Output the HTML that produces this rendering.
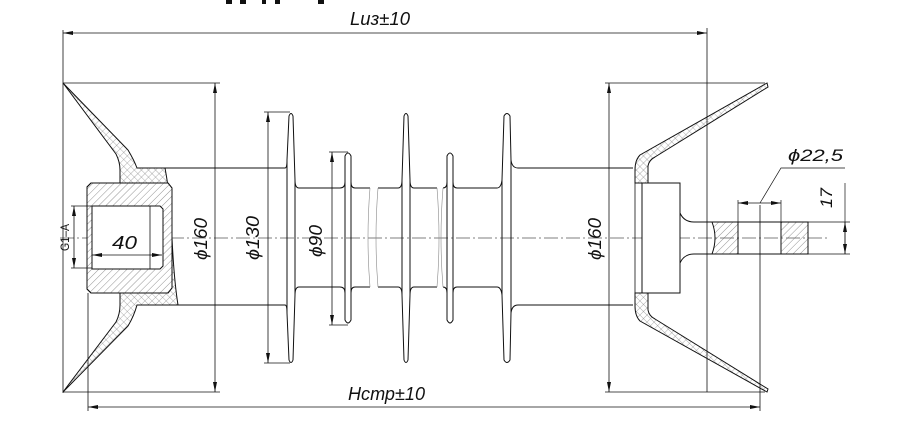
<!DOCTYPE html>
<html><head><meta charset="utf-8"><style>
html,body{margin:0;padding:0;background:#fff;}
svg{display:block}
text{font-family:"Liberation Sans","DejaVu Sans",sans-serif;font-style:italic;fill:#111}
</style></head><body>
<svg width="900" height="432" viewBox="0 0 900 432" xmlns="http://www.w3.org/2000/svg">
<defs>
<pattern id="diag" width="5" height="5" patternUnits="userSpaceOnUse" patternTransform="rotate(45)">
<line x1="0" y1="0" x2="0" y2="5" stroke="#666" stroke-width="0.7"/></pattern>
<pattern id="cross" width="5" height="5" patternUnits="userSpaceOnUse" patternTransform="rotate(45)">
<line x1="0" y1="0" x2="0" y2="5" stroke="#777" stroke-width="0.6"/><line x1="0" y1="0" x2="5" y2="0" stroke="#777" stroke-width="0.6"/></pattern>
<marker id="ar" viewBox="0 0 10 4" refX="10" refY="2" markerWidth="10" markerHeight="4" orient="auto-start-reverse" markerUnits="userSpaceOnUse">
<path d="M0,0 L10,2 L0,4 z" fill="#111"/></marker>
</defs>
<g fill="#111"><rect x="226" y="0" width="6" height="4"/><rect x="240" y="0" width="6" height="4"/><rect x="262" y="0" width="4" height="4"/><rect x="275" y="0" width="5" height="4"/><rect x="318" y="0" width="6" height="4"/></g>

<g stroke="#111" fill="none" stroke-width="1">
<line x1="60" y1="238" x2="830" y2="238" stroke="#555" stroke-width="0.7" stroke-dasharray="14,3,2,3"/>
<line x1="63" y1="30" x2="63" y2="393" stroke-width="0.8"/>
<line x1="707" y1="28" x2="707" y2="392" stroke-width="0.8"/>
<line x1="63" y1="33" x2="707" y2="33" stroke-width="0.8" marker-start="url(#ar)" marker-end="url(#ar)"/>
<line x1="88" y1="293" x2="88" y2="411" stroke-width="0.8"/>
<line x1="760" y1="205" x2="760" y2="411" stroke-width="0.8"/>
<line x1="88" y1="407" x2="760" y2="407" stroke-width="0.8" marker-start="url(#ar)" marker-end="url(#ar)"/>

<!-- left fitting -->
<path d="M63,83 L128,150 Q134,160 137,168 L165,168 Q171,200 172,238 Q174,280 178,305 L137,305 Q134,316 128,326 L63,392 L66,388 L116,322 Q120,314 120,305 L120,170 Q120,162 116,154 L66,87 Z" fill="url(#cross)"/>
<path d="M91,183 L168,183 L172,188 L172,288 L168,293 L91,293 L87,289 L87,187 Z" fill="#fff"/>
<path d="M91,183 L168,183 L172,188 L172,288 L168,293 L91,293 L87,289 L87,187 Z" fill="url(#diag)"/>
<path d="M92,206 L160,206 L163,209 L163,266 L160,269 L92,269 Z" fill="#fff"/>
<path d="M150,206 L150,269" stroke-width="0.8"/>
<path d="M137,168 L285,168 M178,305 L285,305"/>

<!-- sheds -->
<path d="M285,168 Q287,168 287,160 L289,116 Q291,111 293,116 L295,180 Q295,188 299,188 L340,188 Q345,188 345,182 L345,156 Q348,150 351,156 L351,182 Q351,188 355,188 L370,188"/>
<path d="M285,305 Q287,305 287,313 L289,360 Q291,365 293,360 L295,295 Q295,287 299,287 L340,287 Q345,287 345,293 L345,320 Q348,326 351,320 L351,293 Q351,287 355,287 L370,287"/>
<path d="M287,160 L287,313 M295,180 L295,295 M345,182 L345,293 M351,182 L351,293"/>
<path d="M378,188 L398,188 Q402,188 402,180 L404,116 Q406,111 408,116 L410,180 Q410,188 414,188 L437,188 M378,287 L398,287 Q402,287 402,295 L404,360 Q406,365 408,360 L410,295 Q410,287 414,287 L437,287"/>
<path d="M402,180 L402,295 M410,180 L410,295"/>
<path d="M443,188 Q447,188 447,182 L447,156 Q450,150 453,156 L453,182 Q453,188 457,188 L497,188 Q501,188 502,180 L504,116 Q507,111 510,116 L511,160 Q512,168 518,168 L633,168"/>
<path d="M443,287 Q447,287 447,293 L447,320 Q450,326 453,320 L453,293 Q453,287 457,287 L497,287 Q501,287 502,295 L504,360 Q507,365 510,360 L511,313 Q512,305 518,305 L633,305"/>
<path d="M447,182 L447,293 M453,182 L453,293 M502,180 L502,295 M511,160 L511,313"/>
<path d="M370,188 Q366,238 370,287 M378,188 Q374,238 378,287 M437,188 Q441,238 437,287 M443,188 Q439,238 443,287" stroke="#888" stroke-width="0.6"/>

<!-- right fitting -->
<path d="M767,83 L640,155 Q635,160 635,170 L635,183 L648,183 L648,166 Q649,160 655,157 L768,87 Z" fill="url(#cross)"/>
<path d="M767,392 L640,321 Q635,316 635,306 L635,293 L648,293 L648,310 Q649,316 655,319 L768,389 Z" fill="url(#cross)"/>
<path d="M635,183 L635,293 M648,183 Q640,238 648,293" stroke-width="0.8"/>
<rect x="642" y="183" width="38" height="110" fill="#fff"/>
<path d="M680,213 Q684,222 694,222 L808,222 L808,254 L694,254 Q684,254 680,263"/>
<path d="M712,222 L738,222 L738,254 L712,254 Q718,238 712,222 Z" fill="url(#diag)"/>
<path d="M781,222 L808,222 L808,254 L781,254 Z" fill="url(#diag)"/>

<!-- dims -->
<line x1="215" y1="83" x2="215" y2="392" stroke-width="0.8" marker-start="url(#ar)" marker-end="url(#ar)"/>
<line x1="63" y1="83" x2="220" y2="83" stroke-width="0.8"/><line x1="63" y1="392" x2="220" y2="392" stroke-width="0.8"/>
<line x1="268" y1="112" x2="268" y2="363" stroke-width="0.8" marker-start="url(#ar)" marker-end="url(#ar)"/>
<line x1="264" y1="112" x2="290" y2="112" stroke-width="0.8"/><line x1="264" y1="363" x2="290" y2="363" stroke-width="0.8"/>
<line x1="332" y1="152" x2="332" y2="325" stroke-width="0.8" marker-start="url(#ar)" marker-end="url(#ar)"/>
<line x1="329" y1="152" x2="348" y2="152" stroke-width="0.8"/><line x1="329" y1="325" x2="348" y2="325" stroke-width="0.8"/>
<line x1="609" y1="83" x2="609" y2="392" stroke-width="0.8" marker-start="url(#ar)" marker-end="url(#ar)"/>
<line x1="605" y1="83" x2="765" y2="83" stroke-width="0.8"/><line x1="605" y1="392" x2="765" y2="392" stroke-width="0.8"/>
<line x1="74" y1="206" x2="74" y2="268" stroke-width="0.8" marker-start="url(#ar)" marker-end="url(#ar)"/>
<line x1="71" y1="206" x2="92" y2="206" stroke-width="0.7"/><line x1="71" y1="268" x2="92" y2="268" stroke-width="0.7"/>
<line x1="92" y1="255" x2="162" y2="255" stroke-width="0.8" marker-start="url(#ar)" marker-end="url(#ar)"/>
<line x1="738" y1="200" x2="738" y2="222" stroke-width="0.7"/><line x1="781" y1="200" x2="781" y2="222" stroke-width="0.7"/>
<line x1="738" y1="203" x2="781" y2="203" stroke-width="0.8" marker-start="url(#ar)" marker-end="url(#ar)"/>
<path d="M760,203 L781,168 L845,168" stroke-width="0.7"/>
<line x1="808" y1="222" x2="850" y2="222" stroke-width="0.7"/><line x1="808" y1="254" x2="850" y2="254" stroke-width="0.7"/>
<line x1="845" y1="183" x2="845" y2="254" stroke-width="0.7"/>
<line x1="845" y1="222" x2="845" y2="254" stroke-width="0.8" marker-start="url(#ar)" marker-end="url(#ar)"/>
</g>
<text x="350" y="25" font-size="18" textLength="60" lengthAdjust="spacingAndGlyphs">Lиз±10</text>
<text x="348" y="400" font-size="18" textLength="77" lengthAdjust="spacingAndGlyphs">Hстр±10</text>
<text x="112" y="249" font-size="18" textLength="25" lengthAdjust="spacingAndGlyphs">40</text>
<text font-size="18" transform="translate(207,260) rotate(-90)" textLength="42" lengthAdjust="spacingAndGlyphs">ϕ160</text>
<text font-size="18" transform="translate(259,260) rotate(-90)" textLength="44" lengthAdjust="spacingAndGlyphs">ϕ130</text>
<text font-size="18" transform="translate(322,257) rotate(-90)" textLength="32" lengthAdjust="spacingAndGlyphs">ϕ90</text>
<text font-size="18" transform="translate(601,260) rotate(-90)" textLength="42" lengthAdjust="spacingAndGlyphs">ϕ160</text>
<text font-size="12" style="font-style:normal" transform="translate(69,251) rotate(-90)" textLength="27" lengthAdjust="spacingAndGlyphs">G1–A</text>
<text x="788" y="161" font-size="17" textLength="55" lengthAdjust="spacingAndGlyphs">ϕ22,5</text>
<text font-size="17" transform="translate(832,208) rotate(-90)" textLength="20" lengthAdjust="spacingAndGlyphs">17</text>
</svg>
</body></html>
